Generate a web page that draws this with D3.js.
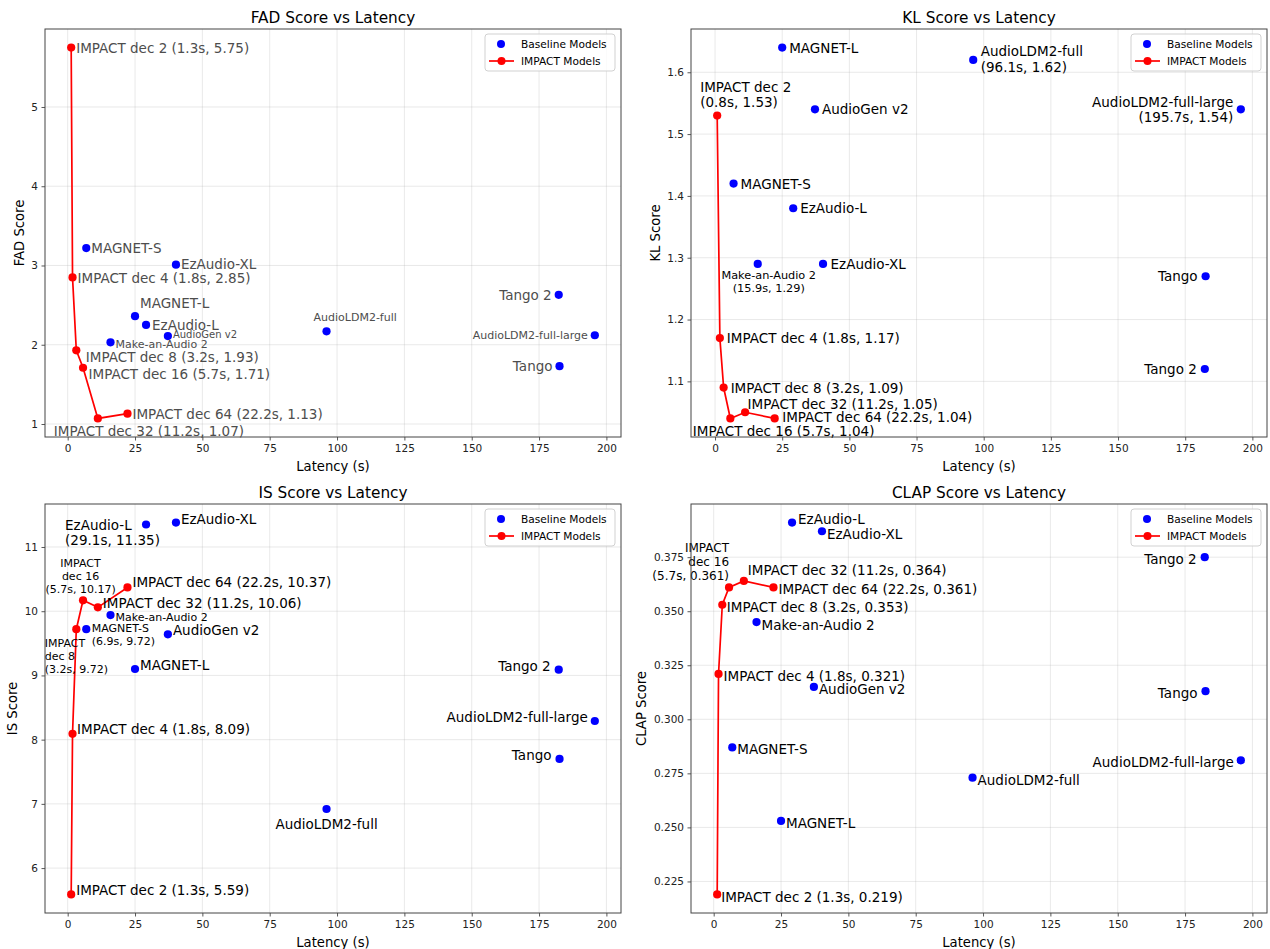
<!DOCTYPE html>
<html>
<head>
<meta charset="utf-8">
<script src="https://cdn.jsdelivr.net/npm/d3@7"></script>
<style>
  body { margin: 0; background: #fff; }
  svg { display: block; }
  text { font-family: "DejaVu Sans", sans-serif; }
</style>
</head>
<body>
<svg id="chart" width="1270" height="949"></svg>
<script>
// ---- data -------------------------------------------------------------
const baselineModels = ["MAGNET-S", "MAGNET-L", "EzAudio-L", "EzAudio-XL", "AudioGen v2",
  "Make-an-Audio 2", "AudioLDM2-full", "AudioLDM2-full-large", "Tango", "Tango 2"];
const baselineLatency = [6.9, 25.0, 29.1, 40.2, 37.2, 15.9, 96.1, 195.7, 182.6, 182.3];

const impactModels = ["IMPACT dec 2", "IMPACT dec 4", "IMPACT dec 8", "IMPACT dec 16", "IMPACT dec 32", "IMPACT dec 64"];
const impactLatency = [1.3, 1.8, 3.2, 5.7, 11.2, 22.2];
const impactLatencyKL = [0.8, 1.8, 3.2, 5.7, 11.2, 22.2];

const fadBaseline = [3.22, 2.36, 2.25, 3.01, 2.11, 2.03, 2.17, 2.12, 1.73, 2.63];
const fadImpact = [5.75, 2.85, 1.93, 1.71, 1.07, 1.13];
const klBaseline = [1.42, 1.64, 1.38, 1.29, 1.54, 1.29, 1.62, 1.54, 1.27, 1.12];
const klImpact = [1.53, 1.17, 1.09, 1.04, 1.05, 1.04];
const isBaseline = [9.72, 9.10, 11.35, 11.38, 9.64, 9.94, 6.92, 8.29, 7.70, 9.09];
const isImpact = [5.59, 8.09, 9.72, 10.17, 10.06, 10.37];
const clapBaseline = [0.287, 0.253, 0.391, 0.387, 0.315, 0.345, 0.273, 0.281, 0.313, 0.375];
const clapImpact = [0.219, 0.321, 0.353, 0.361, 0.364, 0.361];

const xTickValues = [0, 25, 50, 75, 100, 125, 150, 175, 200];
const fadTicks = [1, 2, 3, 4, 5];
const klTicks = [1.1, 1.2, 1.3, 1.4, 1.5, 1.6];
const isTicks = [6, 7, 8, 9, 10, 11];
const clapTicks = [0.225, 0.250, 0.275, 0.300, 0.325, 0.350, 0.375];

const legendLabels = ["Baseline Models", "IMPACT Models"];

// ---- annotation placement (pixel offsets from each marker) -------------
// form: name | inline "name (lat, val)" | two "name\n(lat, val)" | three "IMPACT\ndec N\n(lat, val)"
const fadLabelLayout = {
  "MAGNET-S": { dx: 5, dy: 0 },
  "MAGNET-L": { dx: 5, dy: -13 },
  "EzAudio-L": { dx: 6, dy: 0 },
  "EzAudio-XL": { dx: 5, dy: -1 },
  "AudioGen v2": { dx: 5, dy: -1.5, size: 10 },
  "Make-an-Audio 2": { dx: 5, dy: 2.5, size: 11 },
  "AudioLDM2-full": { dx: -13, dy: -14, size: 11 },
  "AudioLDM2-full-large": { dx: -7, dy: 0, anchor: "end", size: 11 },
  "Tango": { dx: -7, dy: 0, anchor: "end" },
  "Tango 2": { dx: -7, dy: 0, anchor: "end" },
  "IMPACT dec 2": { dx: 5, dy: 0, form: "inline" },
  "IMPACT dec 4": { dx: 5, dy: 0.5, form: "inline" },
  "IMPACT dec 8": { dx: 9.5, dy: 7, form: "inline" },
  "IMPACT dec 16": { dx: 5.5, dy: 6.5, form: "inline" },
  "IMPACT dec 32": { dx: -44, dy: 13, form: "inline" },
  "IMPACT dec 64": { dx: 5, dy: 0, form: "inline" }
};
const klLabelLayout = {
  "MAGNET-L": { dx: 7, dy: 0 },
  "AudioLDM2-full": { dx: 7.5, dy: -1, form: "two" },
  "AudioGen v2": { dx: 7, dy: 0 },
  "AudioLDM2-full-large": { dx: -7.5, dy: 0, anchor: "end", form: "two" },
  "MAGNET-S": { dx: 7, dy: 0 },
  "EzAudio-L": { dx: 7, dy: 0 },
  "Make-an-Audio 2": { dx: 11, dy: 18, anchor: "middle", size: 11.3, form: "two" },
  "EzAudio-XL": { dx: 7.5, dy: 0 },
  "Tango": { dx: -8, dy: 0, anchor: "end" },
  "Tango 2": { dx: -8, dy: 0, anchor: "end" },
  "IMPACT dec 2": { dx: -17, dy: -21, form: "two" },
  "IMPACT dec 4": { dx: 7, dy: 0, form: "inline" },
  "IMPACT dec 8": { dx: 7, dy: 0, form: "inline" },
  "IMPACT dec 16": { dx: -37.5, dy: 12.5, form: "inline" },
  "IMPACT dec 32": { dx: 2.5, dy: -8.5, form: "inline" },
  "IMPACT dec 64": { dx: 7.5, dy: -1, form: "inline" }
};
const isLabelLayout = {
  "EzAudio-L": { dx: -81, dy: 8, form: "two" },
  "EzAudio-XL": { dx: 5, dy: -4 },
  "IMPACT dec 16": { dx: -2.5, dy: -24, anchor: "middle", size: 11, form: "three" },
  "IMPACT dec 64": { dx: 5, dy: -5, form: "inline" },
  "IMPACT dec 32": { dx: 5, dy: -4.5, form: "inline" },
  "Make-an-Audio 2": { dx: 5, dy: 2, size: 11 },
  "MAGNET-S": { dx: 5.5, dy: 5.7, size: 11, form: "two" },
  "AudioGen v2": { dx: 5, dy: -4 },
  "IMPACT dec 8": { dx: -31.5, dy: 27.5, size: 11, form: "three" },
  "MAGNET-L": { dx: 5, dy: -4 },
  "Tango 2": { dx: -8, dy: -4, anchor: "end" },
  "AudioLDM2-full-large": { dx: -7, dy: -4, anchor: "end" },
  "Tango": { dx: -8, dy: -4, anchor: "end" },
  "AudioLDM2-full": { dx: 0, dy: 15, anchor: "middle" },
  "IMPACT dec 4": { dx: 4.5, dy: -4.5, form: "inline" },
  "IMPACT dec 2": { dx: 5, dy: -4, form: "inline" }
};
const clapLabelLayout = {
  "EzAudio-L": { dx: 6, dy: -4 },
  "EzAudio-XL": { dx: 5, dy: 2.5 },
  "IMPACT dec 16": { dx: 0, dy: -25, anchor: "end", size: 12, form: "three" },
  "IMPACT dec 32": { dx: 4, dy: -11, form: "inline" },
  "IMPACT dec 64": { dx: 5, dy: 2, form: "inline" },
  "IMPACT dec 8": { dx: 4.5, dy: 2.5, form: "inline" },
  "Make-an-Audio 2": { dx: 5, dy: 2.5 },
  "IMPACT dec 4": { dx: 5, dy: 2, form: "inline" },
  "AudioGen v2": { dx: 5, dy: 2.5 },
  "Tango 2": { dx: -8, dy: 2, anchor: "end" },
  "Tango": { dx: -8, dy: 1.5, anchor: "end" },
  "MAGNET-S": { dx: 5, dy: 2 },
  "AudioLDM2-full-large": { dx: -7, dy: 2, anchor: "end" },
  "AudioLDM2-full": { dx: 5, dy: 2.5 },
  "MAGNET-L": { dx: 5, dy: 2 },
  "IMPACT dec 2": { dx: 4, dy: 2.5, form: "inline" }
};

// ---- drawing ---------------------------------------------------------
const svg = d3.select("#chart");
const BLUE = "#0000ff", RED = "#ff0000";
const FRAME = "#444";
const LABEL_SIZE = 13.5;

function labelLines(name, lat, val, form, digits) {
  const vals = `(${lat.toFixed(1)}s, ${val.toFixed(digits)})`;
  if (form === "inline") return [`${name} ${vals}`];
  if (form === "two") return [name, vals];
  if (form === "three") {
    const parts = name.split(" ");
    return [parts[0], parts.slice(1).join(" "), vals];
  }
  return [name];
}

function drawPanel(cfg) {
  const { left, top, w, h, title, ylabel, base, imp, impLat, yTicks, yFmt,
    digits, layout, textColor } = cfg;
  const g = svg.append("g").attr("transform", `translate(${left},${top})`);

  const padExt = ext => { const r = ext[1] - ext[0]; return [ext[0] - 0.05 * r, ext[1] + 0.05 * r]; };
  const x = d3.scaleLinear().domain(padExt(d3.extent(baselineLatency.concat(impLat)))).range([0, w]);
  const y = d3.scaleLinear().domain(padExt(d3.extent(base.concat(imp)))).range([h, 0]);

  // grid
  const grid = g.append("g").attr("stroke", "#b0b0b0").attr("stroke-opacity", 0.35).attr("stroke-width", 0.8);
  grid.selectAll("line.vx").data(xTickValues).join("line")
    .attr("x1", d => x(d)).attr("x2", d => x(d)).attr("y1", 0).attr("y2", h);
  grid.selectAll("line.hy").data(yTicks).join("line")
    .attr("x1", 0).attr("x2", w).attr("y1", d => y(d)).attr("y2", d => y(d));

  // axes
  const xAxis = g.append("g").attr("transform", `translate(0,${h})`)
    .call(d3.axisBottom(x).tickValues(xTickValues).tickSize(3.5).tickPadding(4).tickFormat(d3.format("d")));
  const yAxis = g.append("g")
    .call(d3.axisLeft(y).tickValues(yTicks).tickSize(3.5).tickPadding(3.5).tickFormat(yFmt));
  [xAxis, yAxis].forEach(a => {
    a.select(".domain").remove();
    a.selectAll(".tick line").attr("stroke", FRAME).attr("stroke-width", 0.9);
    a.selectAll(".tick text").attr("font-size", "10.5px").attr("fill", "#222")
      .attr("font-family", "DejaVu Sans, sans-serif");
  });

  // IMPACT curve
  const impPts = impLat.map((l, i) => [l, imp[i]]);
  g.append("path").datum(impPts)
    .attr("fill", "none").attr("stroke", RED).attr("stroke-width", 1.7)
    .attr("d", d3.line().x(d => x(d[0])).y(d => y(d[1])));

  // markers
  g.selectAll("circle.base").data(baselineLatency).join("circle")
    .attr("cx", d => x(d)).attr("cy", (d, i) => y(base[i])).attr("r", 4.1).attr("fill", BLUE);
  g.selectAll("circle.imp").data(impPts).join("circle")
    .attr("cx", d => x(d[0])).attr("cy", d => y(d[1])).attr("r", 4.1).attr("fill", RED);

  // annotations
  const items = baselineModels.map((n, i) => ({ name: n, lat: baselineLatency[i], val: base[i] }))
    .concat(impactModels.map((n, i) => ({ name: n, lat: impLat[i], val: imp[i] })));
  items.forEach(it => {
    const spec = layout[it.name];
    const size = spec.size || LABEL_SIZE;
    const lines = labelLines(it.name, it.lat, it.val, spec.form, digits);
    const lh = size + 2;
    const cx = x(it.lat) + spec.dx;
    const cy = y(it.val) + spec.dy;
    const t = g.append("text")
      .attr("font-size", size + "px").attr("fill", textColor)
      .attr("text-anchor", spec.anchor || "start");
    lines.forEach((ln, k) => {
      t.append("tspan").attr("x", cx)
        .attr("y", cy + (k - (lines.length - 1) / 2) * lh)
        .attr("dominant-baseline", "central")
        .text(ln);
    });
  });

  // frame
  g.append("rect").attr("width", w).attr("height", h)
    .attr("fill", "none").attr("stroke", FRAME).attr("stroke-width", 1);

  // title and axis labels
  g.append("text").attr("x", w / 2).attr("y", -6.5).attr("text-anchor", "middle")
    .attr("font-size", "15.3px").attr("fill", "#000").text(title);
  g.append("text").attr("x", w / 2).attr("y", h + 29).attr("text-anchor", "middle")
    .attr("dominant-baseline", "central").attr("font-size", "13.2px").attr("fill", "#000")
    .text("Latency (s)");
  const tickBox = yAxis.node().getBBox();
  g.append("text")
    .attr("transform", `translate(${tickBox.x - 12},${h / 2}) rotate(-90)`)
    .attr("text-anchor", "middle").attr("dominant-baseline", "central")
    .attr("font-size", "13.2px").attr("fill", "#000").text(ylabel);

  // legend
  const lg = g.append("g").attr("transform", `translate(${w - 136},5)`);
  lg.append("rect").attr("width", 130).attr("height", 37).attr("rx", 3)
    .attr("fill", "#fff").attr("fill-opacity", 0.8).attr("stroke", "#cccccc").attr("stroke-width", 0.9);
  lg.append("circle").attr("cx", 16).attr("cy", 10).attr("r", 4).attr("fill", BLUE);
  lg.append("line").attr("x1", 4).attr("x2", 29).attr("y1", 27).attr("y2", 27)
    .attr("stroke", RED).attr("stroke-width", 1.7);
  lg.append("circle").attr("cx", 16.5).attr("cy", 27).attr("r", 4).attr("fill", RED);
  legendLabels.forEach((lab, i) => {
    lg.append("text").attr("x", 36).attr("y", i === 0 ? 10 : 27)
      .attr("dominant-baseline", "central").attr("font-size", "10.6px").attr("fill", "#000").text(lab);
  });
}

const W = 576, H = 408;
drawPanel({ left: 45, top: 29, w: W, h: H, title: "FAD Score vs Latency", ylabel: "FAD Score",
  base: fadBaseline, imp: fadImpact, impLat: impactLatency, yTicks: fadTicks, yFmt: d3.format("d"),
  digits: 2, layout: fadLabelLayout, textColor: "#4d4d4d" });
drawPanel({ left: 691, top: 29, w: W, h: H, title: "KL Score vs Latency", ylabel: "KL Score",
  base: klBaseline, imp: klImpact, impLat: impactLatencyKL, yTicks: klTicks, yFmt: d3.format(".1f"),
  digits: 2, layout: klLabelLayout, textColor: "#000" });
drawPanel({ left: 45, top: 504, w: W, h: 409, title: "IS Score vs Latency", ylabel: "IS Score",
  base: isBaseline, imp: isImpact, impLat: impactLatency, yTicks: isTicks, yFmt: d3.format("d"),
  digits: 2, layout: isLabelLayout, textColor: "#000" });
drawPanel({ left: 691, top: 504, w: W, h: 409, title: "CLAP Score vs Latency", ylabel: "CLAP Score",
  base: clapBaseline, imp: clapImpact, impLat: impactLatency, yTicks: clapTicks, yFmt: d3.format(".3f"),
  digits: 3, layout: clapLabelLayout, textColor: "#000" });
</script>
</body>
</html>
